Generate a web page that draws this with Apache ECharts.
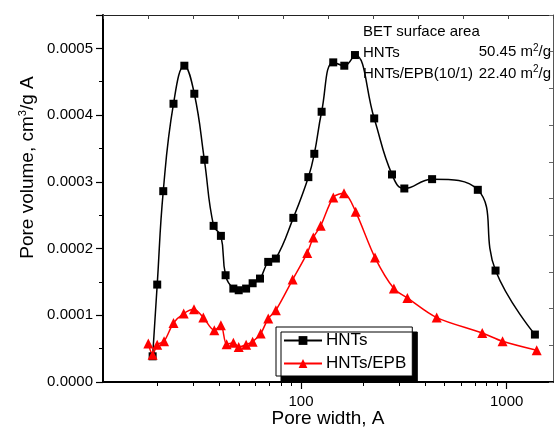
<!DOCTYPE html>
<html>
<head>
<meta charset="utf-8">
<script src="https://cdn.jsdelivr.net/npm/echarts@6/dist/echarts.min.js"></script>
<style>
  html, body { margin: 0; padding: 0; background: #fff; }
  #chart { width: 554px; height: 428px; }
</style>
</head>
<body>
<div id="chart"></div>
<script>
// pore width (A) and pore volume (cm3/g A)
const hntsWidth = [19.0, 20.0, 21.4, 24.0, 27.1, 30.3, 33.9, 37.6, 40.8, 43.0, 46.9, 49.8, 54.1, 58.2, 63.2, 69.3, 75.5,
    91.8, 108.6, 116.1, 126, 143.5, 162.4, 183, 227, 277, 318, 434, 724, 883, 1372];
const hntsVolume = [0.0000385, 0.000146, 0.000286, 0.000417, 0.000474, 0.000432, 0.000333, 0.000234, 0.000219, 0.000160,
    0.000140, 0.0001375, 0.000140, 0.000148, 0.000155, 0.000180, 0.000185, 0.000246, 0.000307, 0.000342, 0.000405,
    0.000479, 0.000474, 0.000490, 0.000395, 0.000311, 0.000290, 0.000304, 0.000288, 0.000167, 0.0000711];

const epbWidth = [18.1, 19.0, 20.0, 21.6, 24.0, 26.9, 30.2, 33.5, 37.9, 40.8, 43.5, 46.9, 49.8, 54.1, 58.2, 63.7, 69.3,
    75.5, 91.1, 107.3, 114.8, 124.7, 143.6, 161.9, 184.5, 229, 283, 329, 457, 761, 955, 1400];
const epbVolume = [0.0000576, 0.000041, 0.000056, 0.000061, 0.0000885, 0.0001025, 0.000109, 0.0000965, 0.0000775,
    0.000085, 0.0000565, 0.000059, 0.0000525, 0.000056, 0.0000605, 0.0000725, 0.000095, 0.0001075, 0.0001535,
    0.0001935, 0.0002165, 0.000234, 0.0002765, 0.000283, 0.000255, 0.0001865, 0.00014, 0.000126, 0.0000965,
    0.0000735, 0.000061, 0.0000475];

const xMajorTicks = [100, 1000];
const xMinorTicks = [20, 30, 40, 50, 60, 70, 80, 90, 200, 300, 400, 500, 600, 700, 800, 900];

const betLabels = ['HNTs', 'HNTs/EPB(10/1)'];
const betValues = ['50.45', '22.40'];

const font = 'Arial, "Liberation Sans", sans-serif';

const chart = echarts.init(document.getElementById('chart'));

const supRich = { sup: { fontSize: 10, verticalAlign: 'top', fontFamily: font, color: '#000' } };

const betText = [{
    type: 'text', left: 363, top: 24,
    style: { text: 'BET surface area', font: '15px ' + font, fill: '#000' }
}];
betLabels.forEach((name, i) => {
    betText.push({
        type: 'text', left: 363, top: 45 + i * 21.5,
        style: { text: name, font: '15px ' + font, fill: '#000' }
    });
    betText.push({
        type: 'text', right: 3, top: 43 + i * 21.5,
        style: {
            text: betValues[i] + ' m{sup|2}/g', font: '15px ' + font, fill: '#000',
            lineHeight: 18, rich: supRich
        }
    });
});

const option = {
    animation: false,
    backgroundColor: '#fff',
    textStyle: { fontFamily: font, color: '#000' },
    grid: { left: 103, right: 1, top: 15, bottom: 46, outerBoundsMode: 'none', containLabel: false },
    legend: {
        orient: 'vertical',
        left: 276, top: 327,
        data: ['HNTs', 'HNTs/EPB'],
        itemWidth: 38, itemHeight: 11, itemGap: 6,
        padding: [5, 6, 4, 7],
        backgroundColor: '#fff',
        borderColor: '#000', borderWidth: 1,
        shadowColor: '#000', shadowBlur: 0, shadowOffsetX: 5, shadowOffsetY: 5,
        textStyle: { fontSize: 17, color: '#000', fontFamily: font, padding: [0, 0, 0, -1] }
    },
    xAxis: [{
        type: 'log', logBase: 10, min: 10.9, max: 1680,
        position: 'bottom',
        name: 'Pore width, A', nameLocation: 'middle', nameGap: 27, nameMoveOverlap: false,
        nameTextStyle: { fontSize: 19, color: '#000', fontFamily: font },
        axisLine: { lineStyle: { color: '#000', width: 2 } },
        axisTick: { customValues: xMajorTicks, length: 7, lineStyle: { color: '#000', width: 1.2 } },
        axisLabel: { customValues: xMajorTicks, fontSize: 15, color: '#000', margin: 12,
            formatter: v => String(Math.round(v)) },
        splitLine: { show: false }
    }, {
        type: 'log', logBase: 10, min: 10.9, max: 1680,
        position: 'bottom',
        axisLine: { show: false },
        axisTick: { customValues: xMinorTicks, length: 4, lineStyle: { color: '#000', width: 1 } },
        axisLabel: { show: false },
        splitLine: { show: false }
    }, {
        type: 'value', min: 0, max: 10, interval: 1,
        position: 'top',
        axisLine: { lineStyle: { color: '#222', width: 1.2 } },
        axisTick: { inside: true, length: 4, lineStyle: { color: '#444', width: 1 } },
        axisLabel: { show: false },
        splitLine: { show: false }
    }],
    yAxis: [{
        type: 'value', min: 0, max: 0.00055, interval: 0.0001,
        position: 'left',
        name: 'Pore volume, cm{sup|3}/g A', nameLocation: 'middle', nameGap: 64, nameMoveOverlap: false,
        nameTextStyle: {
            fontSize: 19, color: '#000', fontFamily: font, lineHeight: 22,
            padding: [0, 0, 0, 62],
            rich: { sup: { fontSize: 11, verticalAlign: 'top', fontFamily: font, color: '#000' } }
        },
        axisLine: { show: true, lineStyle: { color: '#000', width: 2 } },
        axisTick: { length: 7, lineStyle: { color: '#000', width: 1.2 } },
        minorTick: { show: true, splitNumber: 2, length: 4, lineStyle: { color: '#000', width: 1 } },
        axisLabel: { fontSize: 15, color: '#000', margin: 10, showMaxLabel: false, formatter: v => v.toFixed(4) },
        splitLine: { show: false }
    }, {
        type: 'value', min: 0, max: 10, interval: 1,
        position: 'right',
        axisLine: { show: true, lineStyle: { color: '#555', width: 1 } },
        axisTick: { inside: true, length: 4, lineStyle: { color: '#666', width: 1 } },
        axisLabel: { show: false },
        splitLine: { show: false }
    }],
    series: [{
        name: 'HNTs', type: 'line',
        xAxisIndex: 0, yAxisIndex: 0,
        data: hntsWidth.map((w, i) => [w, hntsVolume[i]]),
        smooth: 0.45,
        symbol: 'rect', symbolSize: 8,
        itemStyle: { color: '#000' },
        lineStyle: { color: '#000', width: 1.5 }
    }, {
        name: 'HNTs/EPB', type: 'line',
        xAxisIndex: 0, yAxisIndex: 0,
        data: epbWidth.map((w, i) => [w, epbVolume[i]]),
        smooth: 0.3,
        symbol: 'triangle', symbolSize: 10,
        itemStyle: { color: '#ff0000' },
        lineStyle: { color: '#ff0000', width: 1.5 }
    }],
    graphic: betText
};

chart.setOption(option);
</script>
</body>
</html>
